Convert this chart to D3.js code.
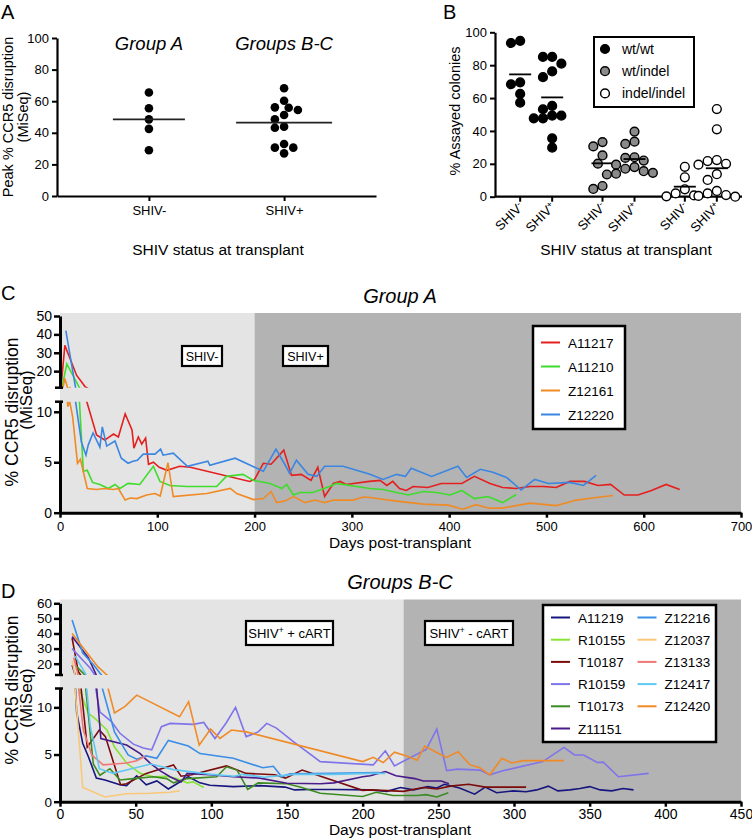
<!DOCTYPE html>
<html><head><meta charset="utf-8">
<script src="https://cdn.jsdelivr.net/npm/d3@7"></script>
<style>
body{margin:0;background:#fff}
text{font-family:"Liberation Sans",Arial,Helvetica,sans-serif;fill:#000}
</style>
</head><body>
<svg id="chart" width="752" height="840"></svg>
<script>
// ---------------- DATA ----------------
// Panel A
const aCategories = ["SHIV-", "SHIV+"];
const aGroupLabels = ["Group A", "Groups B-C"];
const aShivNeg = [65.5, 55.5, 48.5, 42.5, 29.0];
const aShivPos = [68.2, 60.3, 56.1, 55.9, 54.4, 51.3, 48.5, 43.9, 43.2, 32.9, 30.6, 30.6, 27.0];
const aMedians = [48.5, 46.4];
const aTicks = [0, 20, 40, 60, 80, 100];

// Panel B
const bGenotypes = ["wt/wt", "wt/indel", "indel/indel"];
const bCategories = ["SHIV-", "SHIV+"];
const bWtWtNeg = [94.8, 93.5, 69.6, 68.4, 62.5, 57.2];
const bWtWtPos = [85, 85, 80.9, 76.2, 72.7, 55.2, 53.2, 49.3, 49.3, 47.7, 47.7, 35.5, 29.8];
const bWtIndelNeg = [33.2, 30.6, 25.1, 20.1, 6.5, 4.7];
const bWtIndelPos = [39.6, 33.5, 32.1, 24.0, 23.6, 22.0, 19.5, 18.0, 17.0, 15.5, 14.5, 14.0, 13.5];
const bIndelNeg = [18.2, 11.8, 4.5, 2.0, 0.8, 0.2];
const bIndelPos = [53.3, 41.0, 22.3, 21.7, 20.0, 19.5, 13.7, 10.2, 3.5, 2.0, 1.0, 0.5, 0.0];
const bMeans = [[74.4, 60.4], [20.3, 22.9], [6.1, 17.3]];
const bTicks = [0, 20, 40, 60, 80, 100];

// Panel C (Group A) — [day, % disruption]
const cSeriesNames = ["A11217", "A11210", "Z12161", "Z12220"];
const cA11217 = [[1,11],[5,34],[17,17.8],[25.7,11.6],[37.6,7.7],[46,7.2],[55,7.8],[60,7.5],[67,9.8],[74,8.2],[76,6.4],[80.5,7.5],[84,6.8],[88,7.4],[91,4.8],[96,5.0],[102,4.5],[110,4.2],[123,4.6],[134,4.5],[195,3.1],[200,3.3],[209,4.9],[217,4.8],[230,6.2],[238,3.7],[248,3.8],[258,3.2],[265,4.5],[272,1.6],[281,2.9],[288,3.1],[294,2.8],[318,3.1],[329,3.2],[336,2.7],[342,3.1],[349,2.4],[356,2.2],[363,2.6],[378,2.5],[392,2.9],[413,2.9],[426,3.6],[442,2.9],[455,2.5],[469,2.4],[483,2.6],[497,2.6],[510,2.5],[524,3.1],[539,3.1],[553,2.7],[566,2.8],[580,1.75],[594,1.75],[608,2.2],[623,2.8],[637,2.3]];
const cA11210 = [[2,11],[7,24],[20,11],[22,7.5],[24,4.1],[28,4.2],[33.5,3.0],[41,2.8],[49.7,2.4],[56.5,2.8],[61.6,2.4],[70,2.9],[82,2.8],[96,4.6],[102.7,3.1],[113,2.7],[130,2.6],[161,2.6],[171,3.6],[188,3.8],[199,3.2],[216,2.9],[228,2.4],[233,2.8],[240,1.75],[246.6,2.0],[260,2.0],[277,2.6],[284,2.9],[318.5,2.4],[332,2.3],[346,2.0],[358,1.75],[373.5,2.1],[387,2.0],[401,1.75],[413,2.2],[426,1.4],[440,1.6],[455,1.0],[469,1.8]];
const cZ12161 = [[3,11],[5,16],[8,10.5],[10,11],[13,9.5],[18,4.9],[21,5.3],[28,2.4],[37.6,2.3],[46,2.4],[55,2.3],[60,2.4],[67,1.25],[72,1.45],[79,1.4],[89,1.75],[97.6,1.9],[103,1.65],[111,4.95],[116.4,1.6],[151,1.9],[175,2.4],[181.6,1.9],[199,1.3],[209,1.4],[217,2.1],[222.6,1.0],[231,1.15],[240,1.6],[252,1.0],[262,1.25],[272,1.0],[281,1.25],[301,1.25],[312,1.55],[318.5,1.5],[346,1.15],[373.5,0.85],[399,0.75],[414,0.35],[427.6,0.8],[441,0.45],[455,0.45],[469,0.7],[483,0.95],[510,0.7],[531,1.25],[551,1.5],[568.5,1.7]];
const cZ12220 = [[6,42],[16,11],[22,7.0],[26.7,5.7],[29,6.7],[34,7.9],[41,6.5],[43.5,8.5],[48,6.6],[56.5,7.1],[63,5.4],[70,4.9],[75,5.1],[79.5,5.2],[85.6,5.8],[97.6,5.8],[103.4,6.3],[106,5.7],[116.4,5.9],[131,4.6],[152,5.1],[154,4.7],[180,5.4],[209,4.1],[222,6.3],[231,4.8],[236,3.9],[243,5.2],[255,3.8],[264,3.6],[272,4.6],[291,4.6],[318.5,3.8],[332,3.3],[346,3.8],[355,3.6],[361,4.4],[382,3.6],[409,4.6],[418,3.5],[432,4.3],[445,4.0],[459,3.5],[474,2.25],[488,3.3],[502,2.9],[524,3.0],[538,2.7],[551,3.7]];
const cXTicks = [0, 100, 200, 300, 400, 500, 600, 700];
const cYTicksLow = [0, 5, 10];
const cYTicksHigh = [20, 30, 40, 50];
const cPhases = ["SHIV-", "SHIV+"];

// Panel D (Groups B-C) — [day, % disruption]
const dSeriesNames = ["A11219", "R10155", "T10187", "R10159", "T10173", "Z11151", "Z12216", "Z12037", "Z13133", "Z12417", "Z12420"];
const dA11219 = [[8,19],[11,9.5],[15,6.2],[18.7,4.8],[24,2.5],[29.7,2.3],[39.6,1.8],[44,1.7],[50.7,2.75],[57,1.8],[64,2.2],[71.6,1.35],[84.8,2.65],[92.5,2.0],[99,1.75],[114.5,1.6],[132,1.7],[148.7,1.55],[155,1.25],[165,1.3],[180.6,1.3],[205,1.25],[216,1.1],[225,1.5],[233.5,1.25],[243,1.6],[249,1.45],[254,1.85],[264,1.45],[274,0.8],[281,1.55],[288.5,0.95],[299.5,1.15],[308,1.05],[315,1.25],[322.7,1.65],[329,1.15],[337,1.25],[343.6,1.4],[350,1.6],[357,1.25],[364.6,1.15],[372,1.4],[379,1.25]];
const dR10155 = [[11,19.5],[12.5,12],[18.7,9.4],[24,8.7],[31,7.6],[36,5.8],[44,4.1],[53,3.0],[61.7,2.65],[70.5,2.7],[77,2.45],[84,2.0],[88,2.1],[95,1.5]];
const dT10187 = [[8,37],[12,15],[18,5.8],[26,7.6],[30,6.9],[40,1.8],[44,1.9],[57,3.0],[75,3.9],[80,2.7],[87,2.85],[110,3.8],[123,3.0],[142,2.85],[149,2.5],[160,3.35],[200,1.2],[205,1.25],[227,1.1],[240,1.5],[249,1.35],[258,1.65],[270,1.85],[281,1.55],[308,1.55]];
const dR10159 = [[8,30],[20,17],[23,12.5],[26.4,9.5],[34,8.5],[39.6,7.25],[48.5,6.1],[55,5.7],[60.6,5.5],[67,7.95],[72.7,8.3],[88,8.2],[95,8.4],[102.4,6.7],[110,8.4],[116,10.0],[123,6.9],[131,7.4],[136.6,8.3],[143,7.8],[154,6.4],[172,4.25],[207,3.9],[215,5.4],[221,3.8],[242,5.55],[249,7.7],[255.5,3.3],[262.5,3.45],[277.5,3.35],[284,2.85],[292,3.25],[319,4.25],[333,5.75],[340,4.95],[346,4.95],[355,4.15],[359,4.2],[369,2.65],[389,3.0]];
const dT10173 = [[10,19],[17,12],[22,4],[26.4,2.8],[33,3.5],[39.6,2.3],[48.5,2.45],[61.7,2.65],[70.5,2.45],[75,2.0],[84,2.45],[103.5,2.65],[110,3.7],[117,3.35],[124,1.3],[131,2.0],[150,1.9],[158.6,1.55],[172,0.9],[200,0.55],[209,1.0],[220,0.65],[236,0.65],[242,0.75],[249,0.5],[256.6,0.95]];
const dZ11151 = [[8,38],[18.7,24],[24,12.5],[27,6.7],[44,6.0],[53,5.1],[59.5,4.1],[66,3.3],[72.7,2.65],[80,2.1],[84,3.0],[99,2.85],[114.5,2.65],[132,2.5],[150,1.95],[172,1.9],[181,2.0],[200,2.65],[205,2.75],[215,3.2],[222,2.75],[234.5,2.45],[240,2.2],[252,2.2],[257,1.9]];
const dZ12216 = [[8,49],[15,27],[22,19.5],[27.5,12.3],[36,7.4],[45,4.95],[50.7,4.5],[57,4.85],[64,4.6],[71.6,6.5],[84.8,5.9],[92.5,5.1],[114.5,4.6],[134,3.6],[141,3.75],[146.5,2.65],[152,2.95],[180.6,3.0],[211,3.1]];
const dZ12037 = [[8,22],[10,12],[15,1.5],[29.7,0.5],[44,0.85],[59.5,0.9],[72.7,1.0],[79,1.15]];
const dZ13133 = [[9,24],[12,12.5],[15.4,7.6],[21,4.95],[28.6,3.9],[36,4.0],[44,4.1],[50.7,4.35],[56,4.8]];
const dZ12417 = [[10,25],[20,8],[26,3.5],[35,3.0],[50,3.6],[60,4.0],[75,3.4],[100,2.9],[115,2.7],[120,2.9],[135,2.6],[155,2.9],[180,2.9],[205,3.0],[215,3.0]];
const dZ12420 = [[8,40],[25,18],[31,12.5],[36,9.4],[43,10.1],[50.7,11.3],[79,9.0],[85,10.6],[92,6.0],[99.5,7.7],[105.7,6.7],[113.4,7.6],[123,7.4],[200,4.25],[207,4.7],[213.6,4.15],[221,5.25],[229,4.85],[236,4.4],[241,5.9],[248,5.3],[255.5,4.7],[263,5.3],[271,3.9],[277.5,3.6],[284,2.85],[292,4.6],[298.5,4.1],[306,4.35],[333,4.35]];
const dXTicks = [0, 50, 100, 150, 200, 250, 300, 350, 400, 450];
const dYTicksLow = [0, 5, 10];
const dYTicksHigh = [20, 30, 40, 50, 60];

// ---------------- DRAWING ----------------
const svg = d3.select("#chart");

function styleAxis(g, w, tw, fs) {
  g.select(".domain").attr("stroke", "#000").attr("stroke-width", w);
  g.selectAll(".tick line").attr("stroke", "#000").attr("stroke-width", tw);
  g.selectAll(".tick text").attr("font-size", fs).attr("fill", "#000")
    .style("font-family", '"Liberation Sans", Arial, sans-serif');
}

function swarm(values, y, cx, r, step) {
  const pts = values.map(v => ({ v, y: y(v) })).sort((a, b) => b.v - a.v);
  const placed = [];
  pts.forEach(p => {
    for (let k = 0; k < 60; k++) {
      const off = k === 0 ? 0 : (k % 2 ? -1 : 1) * Math.ceil(k / 2) * step;
      const x = cx + off;
      if (placed.every(q => (q.x - x) ** 2 + (q.y - p.y) ** 2 >= (2 * r) ** 2 * 0.9)) {
        p.x = x; placed.push(p); break;
      }
    }
  });
  return placed;
}

function panelLetter(t, x, y) {
  svg.append("text").attr("x", x).attr("y", y).attr("font-size", 20).text(t);
}

// ===== Panel A =====
panelLetter("A", 1, 19);
const aX = d3.scalePoint().domain(aCategories).range([57, 376]).padding(0.68);
const aY = d3.scaleLinear().domain([0, 100]).range([196, 38]);
const gA = svg.append("g");
gA.append("g").attr("transform", "translate(57,0)")
  .call(d3.axisLeft(aY).tickValues(aTicks).tickSize(5).tickSizeOuter(0))
  .call(g => styleAxis(g, 2.2, 2, 13));
gA.append("g").attr("transform", "translate(0,196)")
  .call(d3.axisBottom(aX).tickSize(5).tickSizeOuter(0).tickPadding(5))
  .call(g => styleAxis(g, 2.2, 2, 13));
[aShivNeg, aShivPos].forEach((vals, i) => {
  const cat = aCategories[i];
  const pts = swarm(vals, aY, aX(cat), 4.3, 4.6);
  gA.selectAll(null).data(pts).enter().append("circle")
    .attr("cx", d => d.x).attr("cy", d => d.y).attr("r", 4.3).attr("fill", "#000");
  const hw = i === 0 ? 36 : 48;
  gA.append("line").attr("x1", aX(cat) - hw).attr("x2", aX(cat) + hw)
    .attr("y1", aY(aMedians[i])).attr("y2", aY(aMedians[i]))
    .attr("stroke", "#222").attr("stroke-width", 1.8);
  gA.append("text").attr("x", aX(cat)).attr("y", 50).attr("text-anchor", "middle")
    .attr("font-size", 18.5).attr("font-style", "italic").text(aGroupLabels[i]);
});
gA.append("text").attr("x", 218).attr("y", 255).attr("text-anchor", "middle")
  .attr("font-size", 15.5).text("SHIV status at transplant");
gA.append("text").attr("transform", "translate(13,117) rotate(-90)").attr("text-anchor", "middle")
  .attr("font-size", 14.5).text("Peak % CCR5 disruption");
gA.append("text").attr("transform", "translate(28,117) rotate(-90)").attr("text-anchor", "middle")
  .attr("font-size", 14.5).text("(MiSeq)");

// ===== Panel B =====
panelLetter("B", 443, 19);
const bOuter = d3.scaleBand().domain(bGenotypes).range([495, 742]);
const bInner = d3.scalePoint().domain(bCategories).range([-16, 16]);
const bY = d3.scaleLinear().domain([0, 100]).range([196.7, 32.3]);
const gB = svg.append("g");
gB.append("g").attr("transform", "translate(495,0)")
  .call(d3.axisLeft(bY).tickValues(bTicks).tickSize(5).tickSizeOuter(0))
  .call(g => styleAxis(g, 2.2, 2, 13));
gB.append("line").attr("x1", 495).attr("x2", 742).attr("y1", bY(0)).attr("y2", bY(0))
  .attr("stroke", "#000").attr("stroke-width", 2.2);
const bFill = { "wt/wt": "#000", "wt/indel": "#8a8a8a", "indel/indel": "#fff" };
const bData = [[bWtWtNeg, bWtWtPos], [bWtIndelNeg, bWtIndelPos], [bIndelNeg, bIndelPos]];
bGenotypes.forEach((gt, gi) => {
  bCategories.forEach((cat, ci) => {
    const cx = bOuter(gt) + bOuter.bandwidth() / 2 + bInner(cat);
    gB.append("line").attr("x1", cx).attr("x2", cx).attr("y1", bY(0)).attr("y2", bY(0) + 5)
      .attr("stroke", "#000").attr("stroke-width", 2);
    const lab = gB.append("text").attr("text-anchor", "end").attr("font-size", 13)
      .attr("transform", `translate(${cx + 4},${bY(0) + 11}) rotate(-45)`);
    lab.append("tspan").text("SHIV");
    lab.append("tspan").attr("font-size", 9).attr("dy", -4).text(ci === 0 ? "-" : "+");
    const pts = swarm(bData[gi][ci], bY, cx, 4.4, 4.6);
    gB.selectAll(null).data(pts).enter().append("circle")
      .attr("cx", d => d.x).attr("cy", d => d.y).attr("r", 4.4)
      .attr("fill", bFill[gt]).attr("stroke", "#000").attr("stroke-width", 1.4);
    const m = bMeans[gi][ci];
    gB.append("line").attr("x1", cx - 11).attr("x2", cx + 11).attr("y1", bY(m)).attr("y2", bY(m))
      .attr("stroke", "#000").attr("stroke-width", 1.8);
  });
});
gB.append("text").attr("x", 626).attr("y", 255).attr("text-anchor", "middle")
  .attr("font-size", 15.5).text("SHIV status at transplant");
gB.append("text").attr("transform", "translate(460,111) rotate(-90)").attr("text-anchor", "middle")
  .attr("font-size", 14.5).text("% Assayed colonies");
gB.append("rect").attr("x", 594).attr("y", 37).attr("width", 100).attr("height", 70)
  .attr("fill", "#fff").attr("stroke", "#000").attr("stroke-width", 2);
bGenotypes.forEach((gt, i) => {
  const yy = 49 + i * 22.2;
  gB.append("circle").attr("cx", 605).attr("cy", yy).attr("r", 4.4)
    .attr("fill", bFill[gt]).attr("stroke", "#000").attr("stroke-width", 1.4);
  gB.append("text").attr("x", 622).attr("y", yy + 5).attr("font-size", 14).text(gt);
});

// ===== Broken-axis time course panels =====
function timePanel(o) {
  const g = svg.append("g");
  const x = d3.scaleLinear().domain(o.xDomain).range([60, 741]);
  const yH = d3.scaleLinear().domain(o.hiDomain).range(o.hiRange);
  const yL = d3.scaleLinear().domain(o.loDomain).range(o.loRange);
  const base = o.loRange[0];
  g.append("rect").attr("x", 60).attr("y", o.bgTop).attr("width", x(o.split) - 60)
    .attr("height", base - o.bgTop).attr("fill", "#e4e4e4");
  g.append("rect").attr("x", x(o.split)).attr("y", o.bgTop).attr("width", 741 - x(o.split))
    .attr("height", base - o.bgTop).attr("fill", "#b3b3b3");
  const defs = svg.append("defs");
  defs.append("clipPath").attr("id", o.id + "hi").append("rect")
    .attr("x", 60).attr("y", o.bgTop).attr("width", 681).attr("height", o.hiRange[0] - o.bgTop);
  defs.append("clipPath").attr("id", o.id + "lo").append("rect")
    .attr("x", 60).attr("y", o.loRange[1]).attr("width", 681).attr("height", base - o.loRange[1]);
  const lineHi = d3.line().x(d => x(d[0])).y(d => yH(d[1]));
  const lineLo = d3.line().x(d => x(d[0])).y(d => yL(d[1]));
  const gHi = g.append("g").attr("clip-path", `url(#${o.id}hi)`);
  const gLo = g.append("g").attr("clip-path", `url(#${o.id}lo)`);
  o.series.forEach((s, i) => {
    gHi.append("path").attr("d", lineHi(s)).attr("fill", "none").attr("stroke", o.colors[i]).attr("stroke-width", 1.6);
    gLo.append("path").attr("d", lineLo(s)).attr("fill", "none").attr("stroke", o.colors[i]).attr("stroke-width", 1.6);
  });
  g.append("g").attr("transform", "translate(60,0)")
    .call(d3.axisLeft(yL).tickValues(o.loTicks).tickSize(6).tickSizeOuter(0).tickPadding(2))
    .call(a => styleAxis(a, 3, 2.5, o.yfs));
  g.append("g").attr("transform", "translate(60,0)")
    .call(d3.axisLeft(yH).tickValues(o.hiTicks).tickSize(6).tickSizeOuter(0).tickPadding(2))
    .call(a => styleAxis(a, 3, 2.5, o.yfs));
  [o.hiRange[0], o.loRange[1]].forEach(yy => {
    g.append("line").attr("x1", 55).attr("x2", 63).attr("y1", yy).attr("y2", yy)
      .attr("stroke", "#000").attr("stroke-width", 2.5);
  });
  g.append("g").attr("transform", `translate(0,${base})`)
    .call(d3.axisBottom(x).tickValues(o.xTicks).tickSize(5).tickSizeOuter(0).tickPadding(o.xPad))
    .call(a => styleAxis(a, 3, 2.5, o.xfs));
  g.append("text").attr("x", 400).attr("y", o.titleY).attr("text-anchor", "middle")
    .attr("font-size", 20).attr("font-style", "italic").text(o.title);
  g.append("text").attr("x", 400).attr("y", o.xLabelY).attr("text-anchor", "middle")
    .attr("font-size", 15.5).text("Days post-transplant");
  g.append("text").attr("transform", `translate(18,${o.yLabelC}) rotate(-90)`).attr("text-anchor", "middle")
    .attr("font-size", 17.5).text("% CCR5 disruption");
  g.append("text").attr("transform", `translate(32,${o.yLabelC2}) rotate(-90)`).attr("text-anchor", "middle")
    .attr("font-size", 17).text("(MiSeq)");
  o.boxes.forEach(b => {
    g.append("rect").attr("x", b.x).attr("y", b.y).attr("width", b.w).attr("height", b.h)
      .attr("fill", "#fff").attr("stroke", "#000").attr("stroke-width", 2.2);
    const t = g.append("text").attr("x", b.x + b.w / 2).attr("y", b.y + b.h / 2 + 5)
      .attr("text-anchor", "middle").attr("font-size", b.fs);
    b.parts.forEach(p => {
      const ts = t.append("tspan").text(p.t);
      if (p.sup) ts.attr("font-size", b.fs * 0.65).attr("dy", -5);
      if (p.down) ts.attr("dy", 5);
    });
  });
  const L = o.legend;
  g.append("rect").attr("x", L.x).attr("y", L.y).attr("width", L.w).attr("height", L.h)
    .attr("fill", "#fff").attr("stroke", "#000").attr("stroke-width", 2.5);
  o.names.forEach((n, i) => {
    const col = Math.floor(i / L.rows), row = i % L.rows;
    const lx = L.x + 8 + col * L.colW, ly = L.y + L.top + row * L.rowH;
    g.append("line").attr("x1", lx).attr("x2", lx + 19).attr("y1", ly).attr("y2", ly)
      .attr("stroke", o.colors[i]).attr("stroke-width", 2);
    g.append("text").attr("x", lx + 27).attr("y", ly + 5).attr("font-size", 13.5).text(n);
  });
}

timePanel({
  id: "pc", xDomain: [0, 700], split: 200, bgTop: 313,
  hiDomain: [11, 50], hiRange: [387.7, 316], loDomain: [0, 11], loRange: [512.7, 401.7],
  loTicks: cYTicksLow, hiTicks: cYTicksHigh, xTicks: cXTicks, yfs: 14, xfs: 13, xPad: 4,
  series: [cA11217, cA11210, cZ12161, cZ12220], names: cSeriesNames,
  colors: ["#e3201f", "#3fdc2e", "#f08a24", "#3a86e2"],
  title: "Group A", titleY: 303, xLabelY: 548, yLabelC: 412, yLabelC2: 400,
  boxes: [
    { x: 182, y: 346, w: 40, h: 20, fs: 12.5, parts: [{ t: cPhases[0] }] },
    { x: 283, y: 346, w: 45, h: 20, fs: 12.5, parts: [{ t: cPhases[1] }] }
  ],
  legend: { x: 533, y: 326, w: 92, h: 103, top: 16.5, rowH: 24, rows: 4, colW: 0 }
});
panelLetter("C", 1, 300);

timePanel({
  id: "pd", xDomain: [0, 450], split: 227, bgTop: 599.5,
  hiDomain: [12.5, 60], hiRange: [675, 603.3], loDomain: [0, 12], loRange: [801.7, 688.5],
  loTicks: dYTicksLow, hiTicks: dYTicksHigh, xTicks: dXTicks, yfs: 13.5, xfs: 14, xPad: 2,
  series: [dA11219, dR10155, dT10187, dR10159, dT10173, dZ11151, dZ12216, dZ12037, dZ13133, dZ12417, dZ12420],
  names: dSeriesNames,
  colors: ["#16167e", "#86e436", "#7a0c0c", "#7f74ea", "#3c8a22", "#4a1b8a", "#3a8ee6", "#f8c878", "#f07674", "#60c8f2", "#f08a26"],
  title: "Groups B-C", titleY: 589, xLabelY: 835, yLabelC: 690, yLabelC2: 698,
  boxes: [
    { x: 246, y: 621, w: 87, h: 24, fs: 13, parts: [{ t: "SHIV" }, { t: "+", sup: true }, { t: " + cART", down: true }] },
    { x: 425, y: 621, w: 88, h: 24, fs: 13, parts: [{ t: "SHIV" }, { t: "+", sup: true }, { t: " - cART", down: true }] }
  ],
  legend: { x: 543, y: 605, w: 173, h: 137, top: 12.5, rowH: 22.2, rows: 6, colW: 86.5 }
});
panelLetter("D", 1, 598);
</script>
</body></html>
